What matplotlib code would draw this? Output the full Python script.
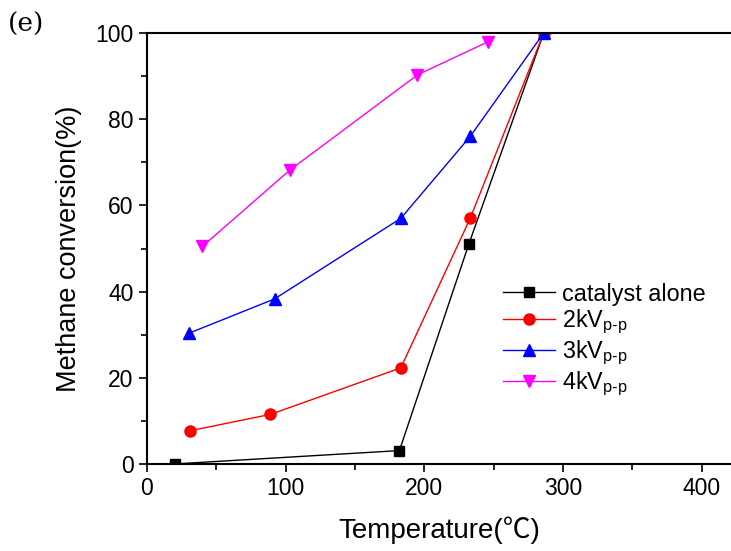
import matplotlib
matplotlib.use('Agg')
import matplotlib.pyplot as plt
from matplotlib.ticker import MultipleLocator

plt.rcParams['font.family'] = ['Liberation Sans', 'Noto Sans CJK SC', 'DejaVu Sans']
plt.rcParams['mathtext.fontset'] = 'custom'
plt.rcParams['mathtext.rm'] = 'Liberation Sans'

# datos
temp_cat = [20, 182, 232, 286]
conv_cat = [0, 3.1, 51, 100]

temp_2kv = [31, 89, 183, 233, 286]
conv_2kv = [7.7, 11.5, 22.3, 57, 100]

temp_3kv = [30, 92, 183, 233, 286]
conv_3kv = [30.3, 38.3, 57, 76, 100]

temp_4kv = [40, 103, 195, 246]
conv_4kv = [50.5, 68.2, 90.3, 98]

labels = ['catalyst alone', r'2kV$_{\mathrm{p\text{-}p}}$', r'3kV$_{\mathrm{p\text{-}p}}$', r'4kV$_{\mathrm{p\text{-}p}}$']

fig = plt.figure(figsize=(7.31, 5.51), dpi=100)
ax = fig.add_axes([0.201, 0.158, 0.799, 0.782])

ax.plot(temp_cat, conv_cat, color='black', marker='s', markersize=7, linewidth=1, label=labels[0])
ax.plot(temp_2kv, conv_2kv, color='red', marker='o', markersize=8, linewidth=1, label=labels[1])
ax.plot(temp_3kv, conv_3kv, color='blue', marker='^', markersize=9, linewidth=1, label=labels[2])
ax.plot(temp_4kv, conv_4kv, color='magenta', marker='v', markersize=9, linewidth=1, label=labels[3])

ax.set_xlim(0, 421)
ax.set_ylim(0, 100)
ax.xaxis.set_major_locator(MultipleLocator(100))
ax.xaxis.set_minor_locator(MultipleLocator(50))
ax.yaxis.set_major_locator(MultipleLocator(20))
ax.yaxis.set_minor_locator(MultipleLocator(10))
ax.tick_params(which='major', direction='out', length=6, width=1.2, labelsize=16.5, top=False, right=False)
ax.tick_params(which='minor', direction='out', length=4, width=1.2, top=False, right=False)
ax.spines['right'].set_visible(False)
for s in ['left', 'bottom', 'top']:
    ax.spines[s].set_linewidth(1.5)

ax.set_xlabel('Temperature(℃)', fontsize=20, labelpad=12)
ax.set_ylabel('Methane conversion(%)', fontsize=19.5, labelpad=10)

ax.legend(loc='upper left', bbox_to_anchor=(0.59, 0.448), frameon=False, fontsize=16.8,
          handlelength=2.2, handletextpad=0.3, labelspacing=0.1, borderpad=0)

fig.text(0.011, 0.955, '(e)', family='DejaVu Serif', fontsize=19, va='center')

plt.savefig('out.png', dpi=100)
